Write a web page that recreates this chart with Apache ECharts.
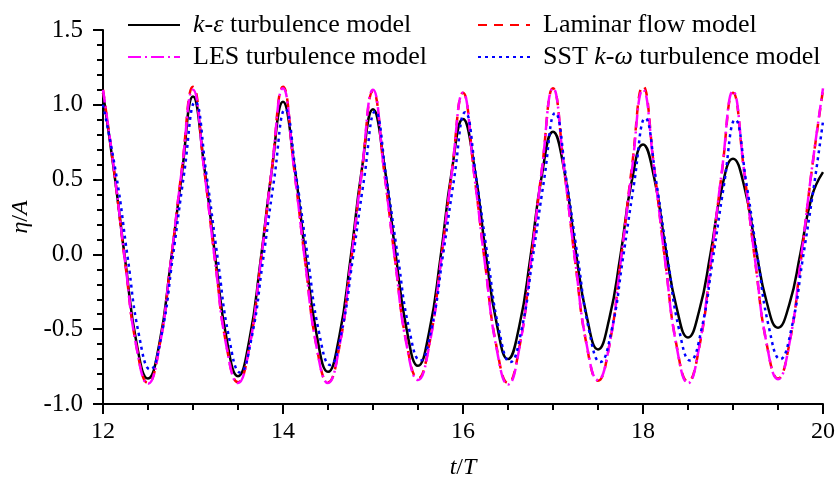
<!DOCTYPE html>
<html>
<head>
<meta charset="utf-8">
<script src="https://cdn.jsdelivr.net/npm/echarts@6/dist/echarts.min.js"></script>
<style>
  html, body { margin: 0; padding: 0; background: #fff; }
  #main { width: 839px; height: 485px; }
</style>
</head>
<body>
<div id="main"></div>
<script>
// time grid (t/T), every 1/8 period
var tGrid = [
  12, 12.125, 12.25, 12.375, 12.5, 12.625, 12.75, 12.875,
  13, 13.125, 13.25, 13.375, 13.5, 13.625, 13.75, 13.875,
  14, 14.125, 14.25, 14.375, 14.5, 14.625, 14.75, 14.875,
  15, 15.125, 15.25, 15.375, 15.5, 15.625, 15.75, 15.875,
  16, 16.125, 16.25, 16.375, 16.5, 16.625, 16.75, 16.875,
  17, 17.125, 17.25, 17.375, 17.5, 17.625, 17.75, 17.875,
  18, 18.125, 18.25, 18.375, 18.5, 18.625, 18.75, 18.875,
  19, 19.125, 19.25, 19.375, 19.5, 19.625, 19.75, 19.875,
  20
];
// SST curve lags a little behind the others
var tSST = [
  12, 12.15, 12.275, 12.4, 12.525, 12.65, 12.775, 12.9,
  13.025, 13.15, 13.275, 13.4, 13.525, 13.65, 13.775, 13.9,
  14.025, 14.15, 14.275, 14.4, 14.525, 14.65, 14.775, 14.9,
  15.025, 15.15, 15.275, 15.4, 15.525, 15.65, 15.775, 15.9,
  16.025, 16.15, 16.275, 16.4, 16.525, 16.65, 16.775, 16.9,
  17.025, 17.15, 17.275, 17.4, 17.525, 17.65, 17.775, 17.9,
  18.025, 18.15, 18.275, 18.4, 18.525, 18.65, 18.775, 18.9,
  19.025, 19.15, 19.275, 19.4, 19.525, 19.65, 19.775, 19.9,
  20
];

var kEps = [
  1.08, 0.545, -0.055, -0.60, -0.83, -0.60, -0.065, 0.53,
  1.055, 0.585, -0.03, -0.57, -0.815, -0.575, -0.045, 0.56,
  1.02, 0.60, -0.01, -0.54, -0.785, -0.55, -0.03, 0.565,
  0.97, 0.60, 0.01, -0.505, -0.745, -0.515, -0.02, 0.555,
  0.905, 0.59, 0.02, -0.465, -0.70, -0.48, -0.015, 0.525,
  0.82, 0.56, 0.03, -0.415, -0.635, -0.43, -0.005, 0.49,
  0.735, 0.51, 0.045, -0.36, -0.555, -0.375, 0.005, 0.44,
  0.64, 0.455, 0.05, -0.32, -0.49, -0.335, 0.01, 0.385,
  0.55
];
var laminar = [
  1.10, 0.55, -0.075, -0.625, -0.86, -0.62, -0.07, 0.565,
  1.12, 0.565, -0.065, -0.62, -0.855, -0.62, -0.065, 0.565,
  1.12, 0.565, -0.065, -0.62, -0.855, -0.62, -0.075, 0.545,
  1.09, 0.55, -0.06, -0.60, -0.83, -0.60, -0.065, 0.545,
  1.08, 0.535, -0.085, -0.625, -0.86, -0.625, -0.07, 0.56,
  1.11, 0.565, -0.065, -0.61, -0.845, -0.61, -0.055, 0.575,
  1.125, 0.57, -0.06, -0.615, -0.85, -0.62, -0.08, 0.54,
  1.08, 0.545, -0.065, -0.60, -0.83, -0.60, -0.06, 0.56,
  1.10
];
var les = [
  1.10, 0.555, -0.07, -0.63, -0.865, -0.625, -0.065, 0.56,
  1.10, 0.56, -0.07, -0.625, -0.86, -0.625, -0.065, 0.565,
  1.11, 0.56, -0.07, -0.625, -0.86, -0.62, -0.07, 0.555,
  1.10, 0.55, -0.065, -0.61, -0.84, -0.61, -0.07, 0.545,
  1.08, 0.53, -0.09, -0.635, -0.87, -0.63, -0.07, 0.56,
  1.11, 0.56, -0.06, -0.605, -0.84, -0.61, -0.06, 0.555,
  1.10, 0.56, -0.065, -0.62, -0.86, -0.615, -0.065, 0.55,
  1.09, 0.55, -0.06, -0.60, -0.835, -0.60, -0.055, 0.565,
  1.11
];
var sst = [
  1.00, 0.52, -0.025, -0.54, -0.77, -0.54, -0.02, 0.535,
  1.02, 0.53, -0.03, -0.555, -0.79, -0.56, -0.05, 0.495,
  0.97, 0.51, -0.02, -0.52, -0.74, -0.52, -0.03, 0.50,
  0.955, 0.505, -0.01, -0.495, -0.71, -0.495, -0.015, 0.50,
  0.95, 0.50, -0.02, -0.505, -0.72, -0.505, -0.02, 0.495,
  0.945, 0.495, -0.02, -0.505, -0.72, -0.51, -0.035, 0.47,
  0.91, 0.475, -0.03, -0.50, -0.71, -0.50, -0.035, 0.465,
  0.90, 0.47, -0.03, -0.49, -0.70, -0.495, -0.03, 0.46,
  0.89
];

var names = ['k-ε turbulence model', 'Laminar flow model', 'LES turbulence model', 'SST k-ω turbulence model'];

function pairs(xs, ys) {
  var out = [];
  for (var i = 0; i < ys.length; i++) out.push([xs[i], ys[i]]);
  return out;
}

var serif = '"Liberation Serif", "DejaVu Serif", serif';
var rich = {
  n: { fontFamily: serif, fontSize: 26, lineHeight: 26, color: '#000' },
  i: { fontFamily: serif, fontSize: 26, lineHeight: 26, color: '#000', fontStyle: 'italic' }
};
var nameRich = {
  n: { fontFamily: serif, fontSize: 24, color: '#000' },
  i: { fontFamily: serif, fontSize: 24, color: '#000', fontStyle: 'italic' }
};

function legendText(name) {
  if (name === names[0]) return '{i|k}{n|-}{i|ε}{n| turbulence model}';
  if (name === names[3]) return '{n|SST }{i|k}{n|-}{i|ω}{n| turbulence model}';
  return '{n|' + name + '}';
}

var chart = echarts.init(document.getElementById('main'), null, { renderer: 'canvas' });

var legendBase = {
  orient: 'vertical',
  top: 7,
  itemWidth: 52,
  itemHeight: 14,
  itemGap: 6,
  formatter: legendText,
  itemStyle: { opacity: 0 },
  textStyle: { fontFamily: serif, fontSize: 26, lineHeight: 26, color: '#000', padding: [0, 0, 0, 8], rich: rich }
};

var option = {
  animation: false,
  backgroundColor: '#fff',
  legend: [
    Object.assign({}, legendBase, { left: 122, data: [names[0], names[2]] }),
    Object.assign({}, legendBase, { left: 472, data: [names[1], names[3]] })
  ],
  grid: { left: 103, right: 16, top: 30, bottom: 78 },
  xAxis: {
    type: 'value',
    min: 12, max: 20, interval: 2,
    name: '{i|t}{n|/}{i|T}',
    nameLocation: 'middle',
    nameGap: 52,
    nameTextStyle: { rich: nameRich },
    axisLine: { onZero: false, lineStyle: { color: '#000', width: 2 } },
    axisTick: { inside: false, length: 10, lineStyle: { color: '#000', width: 2 } },
    minorTick: { show: true, splitNumber: 4, length: 6, lineStyle: { color: '#000', width: 2 } },
    axisLabel: { margin: 16, fontFamily: serif, fontSize: 24, color: '#000' },
    splitLine: { show: false }
  },
  yAxis: {
    type: 'value',
    min: -1, max: 1.5, interval: 0.5,
    name: '{i|η}{n|/}{i|A}',
    nameLocation: 'middle',
    nameGap: 54,
    nameRotate: 90,
    nameTextStyle: { rich: nameRich },
    axisLine: { onZero: false, lineStyle: { color: '#000', width: 2 } },
    axisTick: { inside: false, length: 10, lineStyle: { color: '#000', width: 2 } },
    minorTick: { show: true, splitNumber: 5, length: 6, lineStyle: { color: '#000', width: 2 } },
    axisLabel: {
      margin: 20, fontFamily: serif, fontSize: 25, color: '#000',
      formatter: function (v) { return v.toFixed(1); }
    },
    splitLine: { show: false }
  },
  series: [
    {
      name: names[0], type: 'line', smooth: true, symbol: 'none',
      data: pairs(tGrid, kEps),
      lineStyle: { color: '#000', width: 2.5, type: 'solid' },
      itemStyle: { color: '#000' }
    },
    {
      name: names[1], type: 'line', smooth: true, symbol: 'none',
      data: pairs(tGrid, laminar),
      lineStyle: { color: '#ff0000', width: 2.5, type: [9, 7] },
      itemStyle: { color: '#ff0000' }
    },
    {
      name: names[2], type: 'line', smooth: true, symbol: 'none',
      data: pairs(tGrid, les),
      lineStyle: { color: '#ff00ff', width: 2.5, type: [13, 4, 2, 4] },
      itemStyle: { color: '#ff00ff' }
    },
    {
      name: names[3], type: 'line', smooth: true, symbol: 'none',
      data: pairs(tSST, sst),
      lineStyle: { color: '#0000ff', width: 2.5, type: [3, 4] },
      itemStyle: { color: '#0000ff' }
    }
  ]
};

chart.setOption(option);
</script>
</body>
</html>
